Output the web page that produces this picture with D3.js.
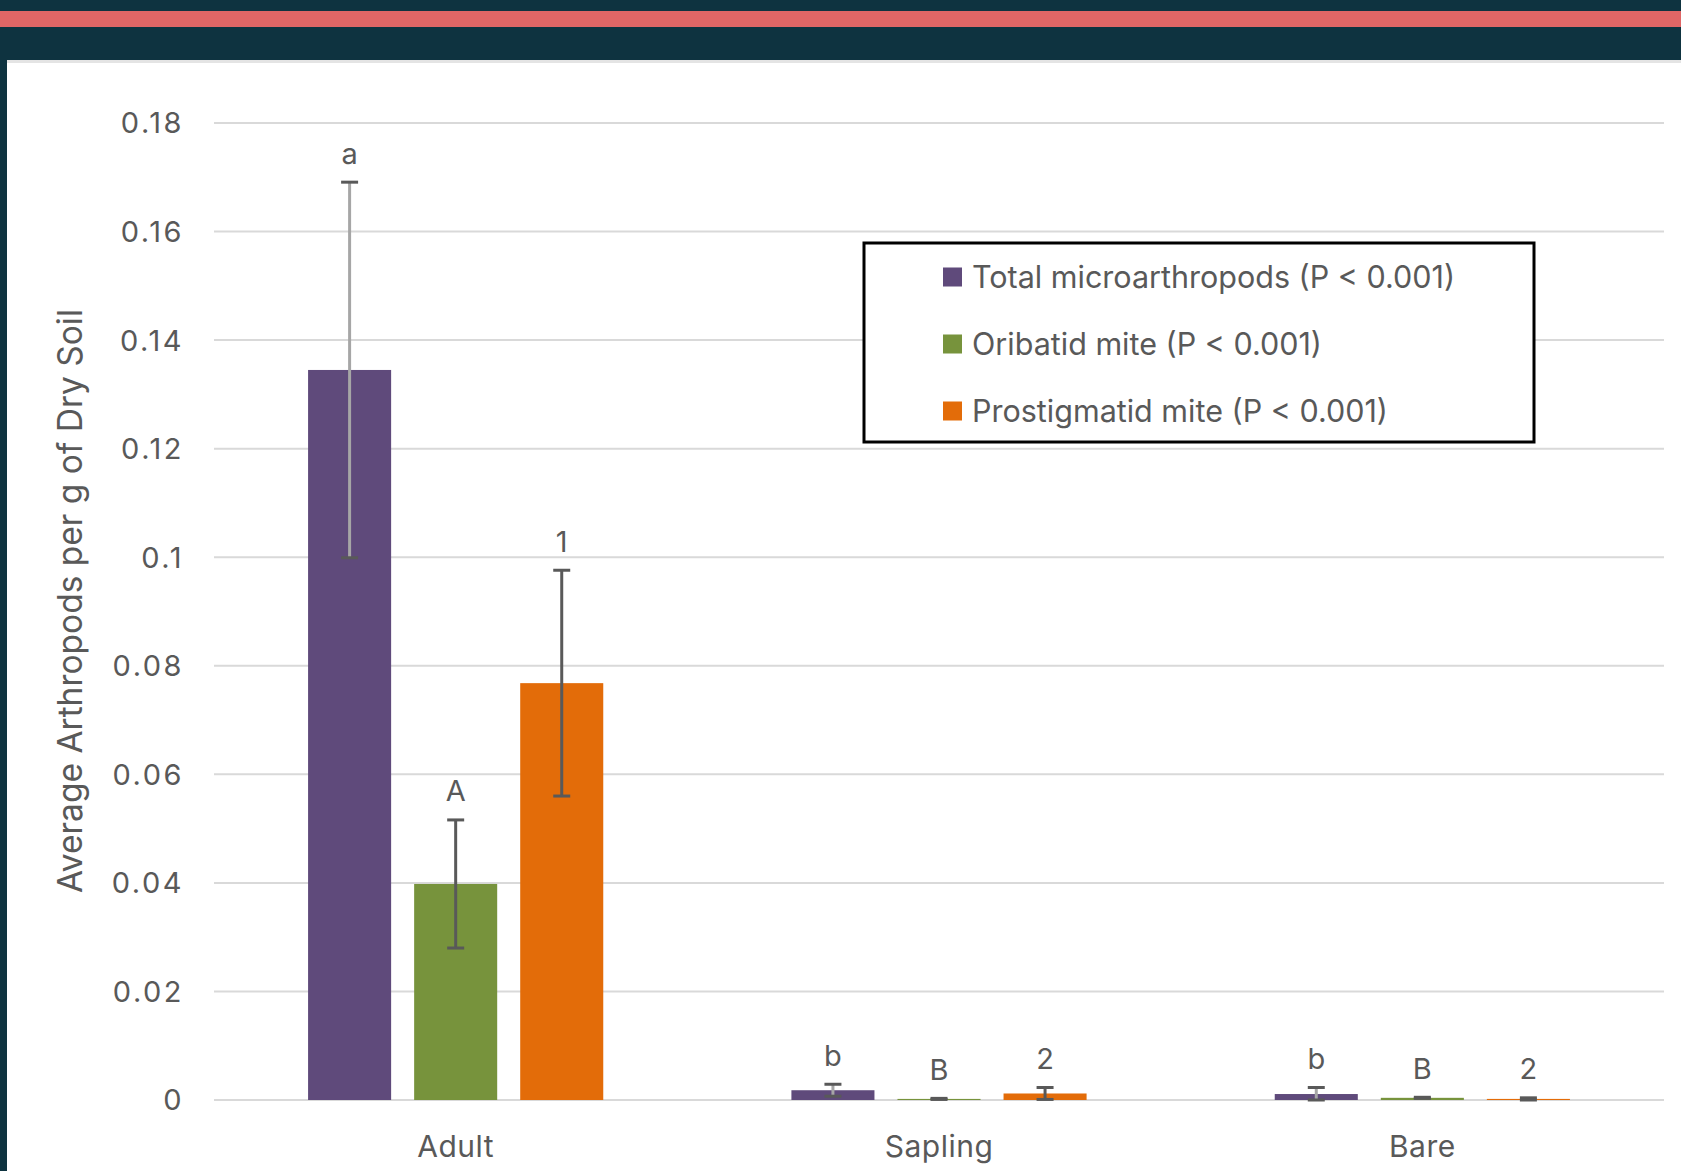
<!DOCTYPE html>
<html><head><meta charset="utf-8">
<script src="https://cdn.jsdelivr.net/npm/d3@7"></script>
<style>
html,body{margin:0;padding:0;background:#0e3340;}
svg{display:block;}
text{font-family:Inter,"Open Sans",sans-serif;fill:#595959;}
</style></head>
<body>
<svg id="chart" width="1681" height="1171"></svg>
<script>
const categories = ["Adult", "Sapling", "Bare"];
const seriesNames = ["Total microarthropods (P < 0.001)", "Oribatid mite (P < 0.001)", "Prostigmatid mite (P < 0.001)"];
const seriesColors = ["#5f4a7b", "#77933c", "#e36c09"];
const errColors = ["#a6a6a6", "#595959", "#595959"];
const totalValues = [0.1345, 0.0018, 0.0011];
const totalErrors = [0.0346, 0.0011, 0.0012];
const oribatidValues = [0.0398, 0.0002, 0.0004];
const oribatidErrors = [0.0118, 0.0001, 0.0001];
const prostigValues = [0.0768, 0.0012, 0.0002];
const prostigErrors = [0.0208, 0.0011, 0.0002];
const totalLetters = ["a", "b", "b"];
const oribatidLetters = ["A", "B", "B"];
const prostigLetters = ["1", "2", "2"];
const yTicks = [0, 0.02, 0.04, 0.06, 0.08, 0.1, 0.12, 0.14, 0.16, 0.18];
const yTitle = "Average Arthropods per g of Dry Soil";

const seriesValues = [totalValues, oribatidValues, prostigValues];
const seriesErrors = [totalErrors, oribatidErrors, prostigErrors];
const seriesLetters = [totalLetters, oribatidLetters, prostigLetters];

const svg = d3.select("#chart");
svg.append("rect").attr("x",0).attr("y",0).attr("width",1681).attr("height",1171).attr("fill","#0e3340");
svg.append("rect").attr("x",0).attr("y",11).attr("width",1681).attr("height",16).attr("fill","#e06666");
svg.append("rect").attr("x",7).attr("y",60).attr("width",1674).attr("height",1111).attr("fill","#ffffff");
svg.append("rect").attr("x",7).attr("y",60).attr("width",1674).attr("height",3).attr("fill","#e4e4e4");

const x0 = d3.scaleBand().domain(categories).range([214, 1664]);
const x1 = d3.scaleBand().domain(d3.range(3)).range([0, x0.bandwidth()]).paddingInner(0.217).paddingOuter(0.887);
const y = d3.scaleLinear().domain([0, 0.18]).range([1100, 123]);

svg.append("g").selectAll("line").data(yTicks).join("line")
  .attr("x1", 214).attr("x2", 1664)
  .attr("y1", d => y(d)).attr("y2", d => y(d))
  .attr("stroke", "#d9d9d9").attr("stroke-width", 2);

svg.append("g").selectAll("text").data(yTicks).join("text")
  .attr("x", 184).attr("y", d => y(d)).attr("dy", "0.36em")
  .attr("text-anchor", "end").attr("font-size", 29).attr("letter-spacing", 2.5)
  .text(d => d3.format("")(+d.toFixed(2)));

svg.append("text")
  .attr("transform", "translate(82,601) rotate(-90)")
  .attr("text-anchor", "middle").attr("font-size", 33.5)
  .text(yTitle);

svg.append("g").selectAll("text").data(categories).join("text")
  .attr("x", d => x0(d) + x0.bandwidth() / 2).attr("y", 1146).attr("dy", "0.36em")
  .attr("text-anchor", "middle").attr("font-size", 30).attr("letter-spacing", 0.5)
  .text(d => d);

const flat = [];
categories.forEach((c, ci) => {
  for (let s = 0; s < 3; s++) {
    flat.push({c, s, v: seriesValues[s][ci], e: seriesErrors[s][ci], lab: seriesLetters[s][ci]});
  }
});
const cx = d => x0(d.c) + x1(d.s) + x1.bandwidth() / 2;

svg.append("g").selectAll("rect").data(flat).join("rect")
  .attr("x", d => x0(d.c) + x1(d.s))
  .attr("width", x1.bandwidth())
  .attr("y", d => y(d.v))
  .attr("height", d => y(0) - y(d.v))
  .attr("fill", d => seriesColors[d.s]);

const eg = svg.append("g");
eg.selectAll("line.stem").data(flat).join("line").attr("class","stem")
  .attr("x1", cx).attr("x2", cx)
  .attr("y1", d => y(d.v + d.e)).attr("y2", d => y(Math.max(0, d.v - d.e)))
  .attr("stroke", d => errColors[d.s]).attr("stroke-width", 3);
eg.selectAll("line.capt").data(flat).join("line").attr("class","capt")
  .attr("x1", d => cx(d) - 8.5).attr("x2", d => cx(d) + 8.5)
  .attr("y1", d => y(d.v + d.e)).attr("y2", d => y(d.v + d.e))
  .attr("stroke", "#595959").attr("stroke-width", 3);
eg.selectAll("line.capb").data(flat).join("line").attr("class","capb")
  .attr("x1", d => cx(d) - 8.5).attr("x2", d => cx(d) + 8.5)
  .attr("y1", d => y(Math.max(0, d.v - d.e))).attr("y2", d => y(Math.max(0, d.v - d.e)))
  .attr("stroke", "#595959").attr("stroke-width", 3);

svg.append("g").selectAll("text").data(flat).join("text")
  .attr("x", cx).attr("y", d => y(d.v + d.e) - 29).attr("dy", "0.36em")
  .attr("text-anchor", "middle").attr("font-size", 29)
  .text(d => d.lab);

const lg = svg.append("g");
lg.append("rect").attr("x", 864).attr("y", 243).attr("width", 670).attr("height", 199)
  .attr("fill", "#ffffff").attr("stroke", "#000000").attr("stroke-width", 3);
const rows = lg.selectAll("g").data(seriesNames).join("g")
  .attr("transform", (d, i) => `translate(943,${277 + i * 67})`);
rows.append("rect").attr("x", 0).attr("y", -9.5).attr("width", 19).attr("height", 19)
  .attr("fill", (d, i) => seriesColors[i]);
rows.append("text").attr("x", 29).attr("y", 0).attr("dy", "0.36em")
  .attr("font-size", 30.5).text(d => d);
</script>
</body></html>
